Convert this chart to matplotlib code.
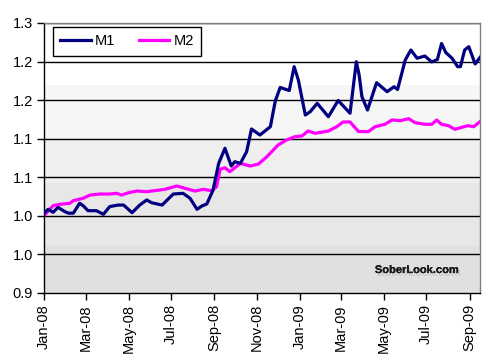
import numpy as np
import pandas as pd
import matplotlib
matplotlib.use("Agg")
import matplotlib.pyplot as plt
import matplotlib.dates as mdates
import matplotlib.patheffects as pe

plt.rcParams["font.family"] = ["Liberation Sans", "DejaVu Sans"]

# values (vertices of each line)
m1_dates = ["2008-01-01", "2008-01-07", "2008-01-14", "2008-01-21", "2008-01-31",
            "2008-02-05", "2008-02-12", "2008-02-21", "2008-02-26", "2008-03-04",
            "2008-03-16", "2008-03-26", "2008-04-04", "2008-04-16", "2008-04-24",
            "2008-05-06", "2008-05-17", "2008-05-27", "2008-06-03", "2008-06-18",
            "2008-07-04", "2008-07-18", "2008-07-28", "2008-08-07", "2008-08-14",
            "2008-08-21", "2008-08-30", "2008-09-07", "2008-09-16", "2008-09-25",
            "2008-09-30", "2008-10-08", "2008-10-17", "2008-10-24", "2008-11-05",
            "2008-11-20", "2008-11-27", "2008-12-04", "2008-12-17", "2008-12-24",
            "2008-12-30", "2009-01-09", "2009-01-16", "2009-01-26", "2009-02-11",
            "2009-02-25", "2009-03-14", "2009-03-23", "2009-03-27", "2009-03-31",
            "2009-04-08", "2009-04-21", "2009-05-06", "2009-05-16", "2009-05-21",
            "2009-06-01", "2009-06-09", "2009-06-18", "2009-06-29", "2009-07-09",
            "2009-07-17", "2009-07-23", "2009-07-29", "2009-08-07", "2009-08-15",
            "2009-08-19", "2009-08-25", "2009-08-31", "2009-09-09", "2009-09-16"]
m1_values = [1.0035, 1.0085, 1.0046, 1.0110, 1.0054,
             1.0035, 1.0035, 1.0163, 1.0132, 1.0067,
             1.0067, 1.0020, 1.0120, 1.0140, 1.0140,
             1.0041, 1.0140, 1.0206, 1.0170, 1.0140,
             1.0283, 1.0292, 1.0228, 1.0085, 1.0128,
             1.0154, 1.0335, 1.0680, 1.0876, 1.0646,
             1.0702, 1.0680, 1.0832, 1.1126, 1.1048,
             1.1156, 1.1489, 1.1664, 1.1625, 1.1934,
             1.1761, 1.1307, 1.1350, 1.1459, 1.1285,
             1.1496, 1.1330, 1.1998, 1.1826, 1.1545,
             1.1372, 1.1726, 1.1610, 1.1674, 1.1638,
             1.2020, 1.2150, 1.2043, 1.2072, 1.1995,
             1.2027, 1.2234, 1.2118, 1.2043, 1.1934,
             1.1934, 1.2150, 1.2193, 1.1969, 1.2053]

m2_dates = ["2008-01-01", "2008-01-14", "2008-01-24", "2008-02-07", "2008-02-12",
            "2008-02-26", "2008-03-07", "2008-03-21", "2008-04-04", "2008-04-14",
            "2008-04-21", "2008-05-01", "2008-05-13", "2008-05-27", "2008-06-22",
            "2008-07-09", "2008-07-21", "2008-08-04", "2008-08-16", "2008-08-28",
            "2008-09-04", "2008-09-09", "2008-09-16", "2008-09-23", "2008-10-08",
            "2008-10-22", "2008-11-03", "2008-11-15", "2008-12-01", "2008-12-13",
            "2008-12-25", "2009-01-04", "2009-01-13", "2009-01-23", "2009-02-11",
            "2009-02-23", "2009-03-04", "2009-03-14", "2009-03-26", "2009-04-09",
            "2009-04-19", "2009-05-03", "2009-05-13", "2009-05-25", "2009-06-06",
            "2009-06-15", "2009-06-29", "2009-07-09", "2009-07-16", "2009-07-23",
            "2009-08-02", "2009-08-11", "2009-08-21", "2009-08-30", "2009-09-07",
            "2009-09-16"]
m2_values = [1.0000, 1.0132, 1.0150, 1.0163, 1.0197,
             1.0228, 1.0270, 1.0283, 1.0283, 1.0292,
             1.0270, 1.0300, 1.0322, 1.0313, 1.0344,
             1.0387, 1.0357, 1.0322, 1.0344, 1.0326,
             1.0378, 1.0604, 1.0624, 1.0572, 1.0680,
             1.0646, 1.0672, 1.0767, 1.0919, 1.0983,
             1.1026, 1.1035, 1.1100, 1.1070, 1.1100,
             1.1156, 1.1217, 1.1217, 1.1094, 1.1091,
             1.1156, 1.1187, 1.1243, 1.1234, 1.1260,
             1.1208, 1.1187, 1.1187, 1.1243, 1.1187,
             1.1169, 1.1122, 1.1148, 1.1169, 1.1156,
             1.1221]

y_ticks = [0.90, 0.95, 1.00, 1.05, 1.10, 1.15, 1.20, 1.25]
y_labels = ["0.9", "1.0", "1.0", "1.1", "1.1", "1.2", "1.2", "1.3"]

m1_x = pd.to_datetime(m1_dates)
m2_x = pd.to_datetime(m2_dates)

fig = plt.figure(figsize=(4.91, 3.64), dpi=100)
ax = fig.add_axes([44 / 491, 71 / 364, 436 / 491, 270 / 364])

# stepped grey background, lighter toward the top
bands = [(0.90, 0.961, "#e0e0e0"), (0.961, 1.0426, "#e7e7e7"),
         (1.0426, 1.1005, "#efefef"), (1.1005, 1.1696, "#f6f6f6"),
         (1.1696, 1.25, "#ffffff")]
for lo, hi, c in bands:
    ax.axhspan(lo, hi, color=c, lw=0, zorder=0)

for y in y_ticks[1:]:
    ax.axhline(y, color="black", lw=1.0, zorder=1)

ax.plot(m1_x, m1_values, color="#000080", lw=2.3, label="M1", zorder=3)
ax.plot(m2_x, m2_values, color="#ff00ff", lw=2.3, label="M2", zorder=2)

ax.set_ylim(0.9, 1.25)
ax.set_yticks(y_ticks)
ax.set_yticklabels(y_labels)
ax.set_xlim(pd.Timestamp("2008-01-01"), pd.Timestamp("2009-09-16"))
ax.xaxis.set_major_locator(mdates.MonthLocator(bymonth=[1, 3, 5, 7, 9, 11]))
ax.xaxis.set_major_formatter(mdates.DateFormatter("%b-%y"))
plt.setp(ax.get_xticklabels(), rotation=90, ha="center", va="top")

ax.tick_params(axis="both", labelsize=10.5, colors="black", direction="out",
               length=5, width=1)
ax.tick_params(axis="x", pad=3)
ax.tick_params(axis="y", pad=3)
for side in ["left", "bottom"]:
    ax.spines[side].set_color("black")
    ax.spines[side].set_linewidth(1)
for side in ["right", "top"]:
    ax.spines[side].set_color("#808080")
    ax.spines[side].set_linewidth(1)

leg = ax.legend(loc="upper left", bbox_to_anchor=(0.02, 0.985), ncol=2,
                fontsize=10.5, frameon=True, fancybox=False, handlelength=2.1,
                columnspacing=1.6, handletextpad=0.3, borderpad=0.5,
                borderaxespad=0)
leg.get_frame().set_edgecolor("black")
leg.get_frame().set_linewidth(1)
leg.get_frame().set_facecolor("white")
leg.get_frame().set_alpha(1)

# watermark with soft shadow
ax.text(0.855, 0.085, "SoberLook.com", transform=ax.transAxes, fontsize=8,
        fontweight="bold", color="#1a1a1a", ha="center", va="center", zorder=5,
        path_effects=[pe.withStroke(linewidth=0),
                      pe.SimplePatchShadow(offset=(1.5, -2), shadow_rgbFace="#a0a0a0",
                                           alpha=0.35),
                      pe.Normal()])

fig.savefig("out.png", dpi=100)
